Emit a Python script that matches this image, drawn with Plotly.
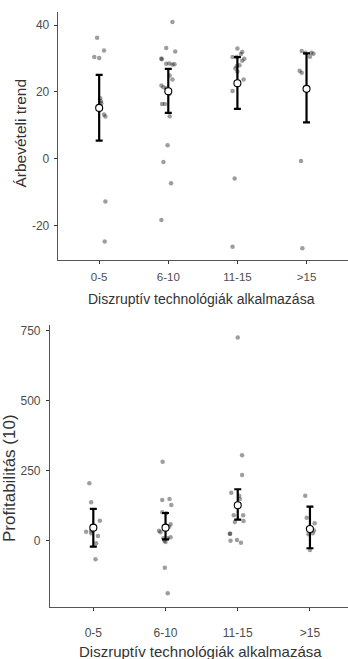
import plotly.graph_objects as go

categories = ["0-5", "6-10", "11-15", ">15"]

rev_values = [
    [36.2, 32.4, 30.4, 30.1, 18.1, 17.2, 16.6, 13.2, 12.6, -12.8, -24.8],
    [40.9, 33.1, 32.1, 30.0, 29.8, 28.4, 28.5, 28.2, 28.3, 24.9, 23.7, 21.9, 21.4, 21.1,
     19.4, 16.4, 16.4, 12.7, 4.0, -1.0, -7.3, -18.3],
    [33.0, 31.9, 31.3, 30.4, 30.4, 29.9, 29.3, 27.7, 28.0, 27.0, 26.0, 23.7, 20.3, -5.9, -26.3],
    [32.2, 31.7, 31.7, 31.4, 30.5, 26.3, 25.7, -0.7, -26.8],
]
rev_jitter = [
    [-0.03, 0.07, -0.07, 0.0, 0.015, 0.025, 0.03, 0.07, 0.09, 0.09, 0.08],
    [0.06, -0.03, 0.10, -0.10, -0.095, -0.03, 0.015, 0.06, 0.09, 0.02, 0.06, -0.10, -0.07, -0.03,
     0.015, -0.09, -0.05, 0.02, -0.01, -0.07, 0.04, -0.10],
    [0.0, 0.07, 0.05, -0.07, -0.01, 0.10, 0.07, -0.01, 0.03, -0.03, 0.0, 0.09, -0.07, -0.04, -0.07],
    [-0.07, -0.015, 0.07, 0.10, 0.05, -0.10, -0.07, -0.08, -0.06],
]
rev_mean = [15.2, 20.2, 22.6, 20.9]
rev_low = [5.4, 13.7, 14.9, 10.9]
rev_high = [25.1, 26.9, 30.4, 31.5]
rev_ticks = [-20, 0, 20, 40]
rev_ticklabels = ["-20", "0", "20", "40"]

# Bottom panel: Profitabilitás (10)
prof_values = [
    [205, 137, 71.5, 32, 35.8, 26.5, 16.8, -9.3, -66.5],
    [282, 145.5, 149, 127.6, 101.5, 98, 58.6, 50, 35.8, 30, 8.6, 0, 12.2, 8.6, -4.6, -96.5, -188],
    [726, 305, 235, 171.6, 161, 149, 90.8, 90.8, 66.9, 70.4, 25, 25, 0, 2.5, -7],
    [161, 82, 62, 44, 36, 26.5, 23, -33],
]
prof_jitter = [
    [-0.055, -0.03, 0.09, -0.10, -0.03, -0.03, 0.065, 0.04, 0.03],
    [-0.04, -0.045, 0.055, 0.08, -0.045, 0.01, 0.07, 0.05, -0.09, -0.07, -0.03, -0.015, 0.07, 0.03, 0.0, -0.01, 0.03],
    [0.0, 0.06, 0.06, -0.09, 0.02, 0.03, -0.055, 0.075, -0.04, 0.08, -0.11, -0.105, -0.10, -0.01, 0.045],
    [-0.065, -0.045, 0.065, -0.03, 0.055, 0.04, -0.02, 0.0],
]
prof_mean = [46.5, 46.5, 126.6, 42]
prof_low = [-21.5, 5, 75, -27]
prof_high = [114, 99, 183.8, 121.6]
prof_ticks = [0, 250, 500, 750]
prof_ticklabels = ["0", "250", "500", "750"]

W, H = 348, 659
FONT = "Liberation Sans, Arial, sans-serif"
TICK_COL = "#4d4d4d"
TITLE_COL = "#333333"
AX_COL = "#555555"
PT_COL = "rgba(0,0,0,0.38)"

fig = go.Figure()


def add_panel(values, jitter, mean, low, high, xa, ya):
    xs, ys = [], []
    for i, (vals, jit) in enumerate(zip(values, jitter)):
        for v, j in zip(vals, jit):
            xs.append(i + j)
            ys.append(v)
    fig.add_trace(go.Scatter(x=xs, y=ys, mode="markers", xaxis=xa, yaxis=ya,
                             marker=dict(size=4.5, color=PT_COL, line=dict(width=0)),
                             showlegend=False, hoverinfo="y"))
    fig.add_trace(go.Scatter(x=list(range(len(categories))), y=mean, mode="markers",
                             xaxis=xa, yaxis=ya,
                             error_y=dict(type="data", symmetric=False,
                                          array=[h - m for h, m in zip(high, mean)],
                                          arrayminus=[m - l for m, l in zip(mean, low)],
                                          thickness=2.2, width=3.5, color="black"),
                             marker=dict(size=7, color="white", line=dict(width=1.1, color="black")),
                             showlegend=False))


add_panel(rev_values, rev_jitter, rev_mean, rev_low, rev_high, "x", "y")
add_panel(prof_values, prof_jitter, prof_mean, prof_low, prof_high, "x2", "y2")

axis_common = dict(showgrid=False, zeroline=False, showline=True, linecolor=AX_COL, linewidth=1.1,
                   ticks="outside", ticklen=3, tickcolor="#333333", tickwidth=1.1)


def px_x(p):
    return p / W


def px_y(p):
    return 1 - p / H


fig.update_layout(
    width=W, height=H,
    margin=dict(l=0, r=0, t=0, b=0),
    paper_bgcolor="white", plot_bgcolor="white",
    font=dict(family=FONT, color=TICK_COL),
    xaxis=dict(**axis_common, domain=[px_x(57.7), 1.0], range=[-0.6, 3.6],
               tickmode="array", tickvals=list(range(4)), ticktext=categories,
               tickfont=dict(size=11.5, color=TICK_COL), anchor="y", ticklabelstandoff=3),
    yaxis=dict(**axis_common, domain=[px_y(260), px_y(12)], range=[-30.3, 43.9],
               tickmode="array", tickvals=rev_ticks, ticktext=rev_ticklabels,
               tickfont=dict(size=12, color=TICK_COL), anchor="x", ticklabelstandoff=2),
    xaxis2=dict(**axis_common, domain=[px_x(50), 1.0], range=[-0.6, 3.527],
                tickmode="array", tickvals=list(range(4)), ticktext=categories,
                tickfont=dict(size=12, color=TICK_COL), anchor="y2", ticklabelstandoff=12),
    yaxis2=dict(**axis_common, domain=[px_y(606.7), px_y(325)], range=[-236, 771],
                tickmode="array", tickvals=prof_ticks, ticktext=prof_ticklabels,
                tickfont=dict(size=12, color=TICK_COL), anchor="x2", ticklabelstandoff=3),
    annotations=[
        dict(text="Diszruptív technológiák alkalmazása", xref="paper", yref="paper",
             x=px_x(201.5), y=px_y(299), xanchor="center", yanchor="middle", showarrow=False,
             font=dict(size=14, color=TITLE_COL, family=FONT)),
        dict(text="Árbevételi trend", xref="paper", yref="paper", textangle=-90,
             x=px_x(19.5), y=px_y(133), xanchor="center", yanchor="middle", showarrow=False,
             font=dict(size=15.5, color=TITLE_COL, family=FONT)),
        dict(text="Diszruptív technológiák alkalmazása", xref="paper", yref="paper",
             x=px_x(200), y=px_y(651), xanchor="center", yanchor="middle", showarrow=False,
             font=dict(size=15, color=TITLE_COL, family=FONT)),
        dict(text="Profitabilitás (10)", xref="paper", yref="paper", textangle=-90,
             x=px_x(9), y=px_y(478), xanchor="center", yanchor="middle", showarrow=False,
             font=dict(size=17, color=TITLE_COL, family=FONT)),
    ],
)

fig.write_html("out.html")
